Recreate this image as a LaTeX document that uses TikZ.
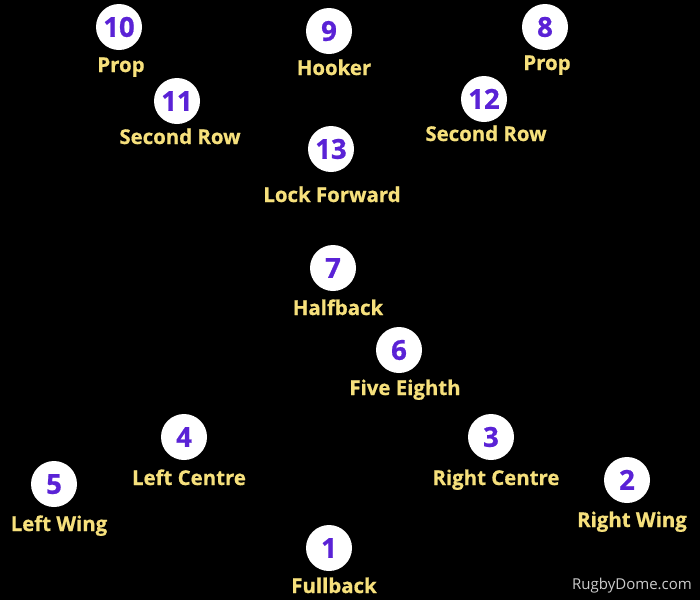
\documentclass[tikz,border=0pt]{standalone}
\usepackage{fontspec}
\setmainfont{Open Sans}
\newfontfamily\heavy{Open Sans}[BoldFeatures={FakeBold=0.7}]
\begin{document}
\begin{tikzpicture}[x=1pt,y=-1pt,
  disc/.style={circle,fill=white,minimum size=46pt,inner sep=0pt},
  num/.style={font=\fontsize{27.5}{27.5}\heavy\bfseries,text=numcol,anchor=base},
  lab/.style={font=\fontsize{20.4}{20.4}\heavy\bfseries,text=labcol,anchor=base}]
\definecolor{numcol}{HTML}{5A22D6}
\definecolor{labcol}{HTML}{F6E07C}
\fill[black] (0,0) rectangle (700,600);
\useasboundingbox (0,0) rectangle (700,600);
\foreach \n/\cx/\cy/\t/\lx/\ly in {
  10/119/27/Prop/121/72,
  9/329/31/Hooker/334/75,
  8/545/27/Prop/547/70,
  11/177/101/Second Row/180/144,
  12/484/99/Second Row/486/141,
  13/331/149/Lock Forward/332/202,
  7/333/268/Halfback/338/315,
  6/399/350/Five Eighth/405/395,
  4/184/437/Left Centre/189/485,
  3/491/437/Right Centre/496/485,
  5/54/484/Left Wing/59/531,
  2/627/480/Right Wing/632/527,
  1/329/548/Fullback/334/593}{
  \node[disc] (c\n) at (\cx,\cy) {};
  \node[num] (n\n) at (\cx,\cy+9.8) {\n};
  \node[lab] (l\n) at (\lx,\ly) {\t};
}
\node[font=\fontsize{15}{15}\selectfont,text=white!80!black,anchor=base] (wm) at (632,589) {RugbyDome.com};
\end{tikzpicture}
\end{document}
